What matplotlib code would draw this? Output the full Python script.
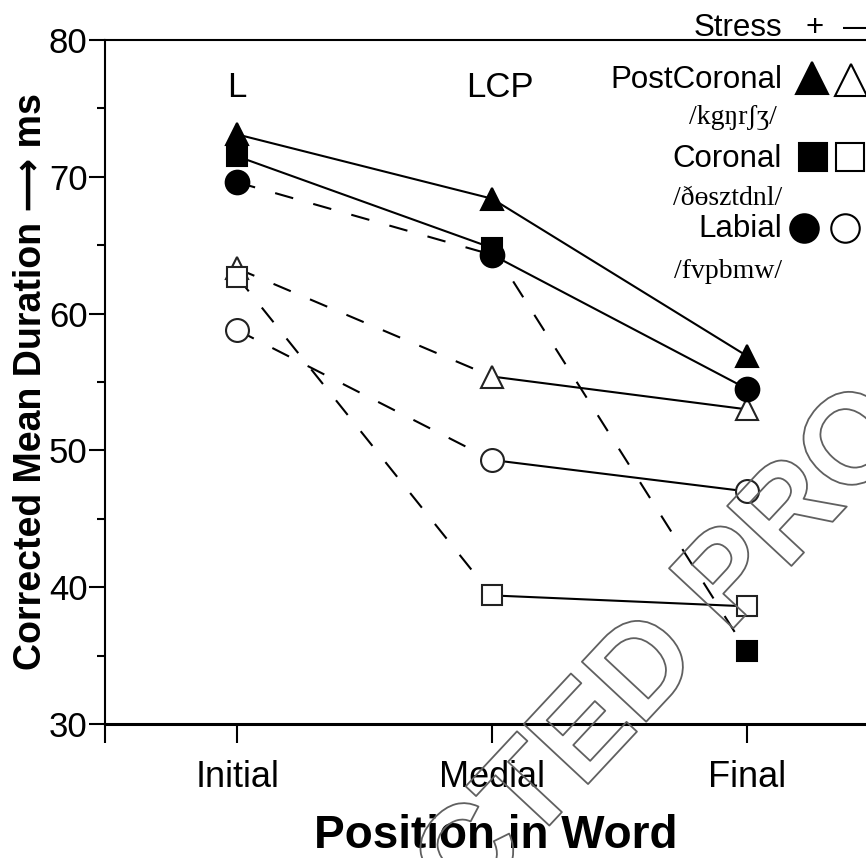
import numpy as np
import matplotlib.pyplot as plt
import matplotlib.patheffects as pe

plt.rcParams['font.family'] = ['Liberation Sans', 'DejaVu Sans']

# data (ms)
positions = ['Initial', 'Medial', 'Final']
xpos = [1, 2, 3]

postcor_stress = [73.1, 68.4, 56.9]
postcor_unstress = [63.3, 55.4, 53.0]
coronal_stress = [71.5, 64.8, 35.3]
coronal_unstress = [62.7, 39.4, 38.6]
labial_stress = [69.6, 64.3, 54.5]
labial_unstress = [58.8, 49.3, 47.0]

SOLID = '-'
DASH = (0, (9, 10))

# (values, marker, filled, size, style Initial->Medial, style Medial->Final)
series = [
    (postcor_stress, '^', True, 16.5, SOLID, SOLID),
    (postcor_unstress, '^', False, 16.5, DASH, SOLID),
    (coronal_stress, 's', True, 14.5, SOLID, DASH),
    (coronal_unstress, 's', False, 14.5, DASH, SOLID),
    (labial_stress, 'o', True, 17, DASH, SOLID),
    (labial_unstress, 'o', False, 16.5, DASH, SOLID),
]

W, H = 866, 858
fig = plt.figure(figsize=(W / 100, H / 100), dpi=100)
ax = fig.add_axes([105 / W, 134 / H, 1 - 105 / W, 684 / H])

for vals, mk, filled, ms, st1, st2 in series:
    ax.plot(xpos[:2], vals[:2], color='black', lw=1.5, linestyle=st1, zorder=2)
    ax.plot(xpos[1:], vals[1:], color='black', lw=1.5, linestyle=st2, zorder=2)
    ax.plot(xpos, vals, linestyle='none', marker=mk, markersize=ms,
            markerfacecolor='black' if filled else 'white',
            markeredgecolor='black' if filled else '#222222',
            markeredgewidth=1.5, zorder=3)

ax.set_xlim(0.482, 1 + (W - 237) / 255)
ax.set_ylim(30, 80)

ax.set_xticks([0.482] + xpos)
ax.set_xticklabels([''] + positions, fontsize=26)
ax.set_yticks(np.arange(30, 81, 10))
ax.set_yticks(np.arange(35, 80, 10), minor=True)
ax.tick_params(axis='y', labelsize=25, length=11.5, width=1.5, pad=1)
ax.tick_params(axis='y', which='minor', length=5.5, width=1.5)
ax.tick_params(axis='x', length=14, width=1.5, pad=12)

ax.spines['right'].set_visible(False)
for s in ['left', 'top']:
    ax.spines[s].set_linewidth(1.5)
ax.spines['bottom'].set_linewidth(2.2)

ax.set_xlabel('Position in Word', fontsize=33, fontweight='bold')
ax.xaxis.set_label_coords(0.514, -0.1316)
ax.set_ylabel('Corrected Mean Duration \u27f6 ms', fontsize=27, fontweight='bold',
              labelpad=0)

# structure labels over the columns
ax.text(1, 76.5, 'L', fontsize=25, ha='center', va='center')
ax.text(2.03, 76.5, 'LCP', fontsize=25, ha='center', va='center')

# hand-made key in the upper right corner (pixel positions)
def fx(px):
    return px / W

def fy(py):
    return 1 - py / H

ipa = dict(family=['Liberation Serif', 'DejaVu Serif'], fontsize=20)
fig.text(fx(782), fy(36), 'Stress', fontsize=22.5, ha='right', va='baseline')
fig.text(fx(815), fy(36), '+', fontsize=22.5, ha='center', va='baseline')
fig.text(fx(843), fy(36), '\u2014', fontsize=22.5, ha='left', va='baseline')

fig.text(fx(782), fy(88), 'PostCoronal', fontsize=22.5, ha='right', va='baseline')
fig.text(fx(777), fy(124), '/kg\u014br\u0283\u0292/', ha='right', va='baseline', **ipa)
fig.text(fx(782), fy(167), 'Coronal', fontsize=22.5, ha='right', va='baseline')
fig.text(fx(782), fy(205), '/\u00f0\u0275sztdnl/', ha='right', va='baseline', **ipa)
fig.text(fx(782), fy(237), 'Labial', fontsize=22.5, ha='right', va='baseline')
fig.text(fx(782), fy(278), '/fvpbmw/', ha='right', va='baseline', **ipa)

key = [
    (812, 78, '^', 'black', 22.5), (851, 80, '^', 'white', 22.5),
    (813, 157, 's', 'black', 20), (850, 157, 's', 'white', 20),
    (804, 228, 'o', 'black', 20.5), (845, 228, 'o', 'white', 20.5),
]
for px, py, mk, fc, ms in key:
    ax.plot([fx(px)], [fy(py)], transform=fig.transFigure, marker=mk,
            markersize=ms, markerfacecolor=fc, markeredgecolor='black',
            markeredgewidth=1.5, linestyle='none', clip_on=False, zorder=5)

# watermark
wm = fig.text(fx(570), fy(755), 'CORRECTED PROOF', fontsize=92, fontweight='bold',
              rotation=47, ha='center', va='center', color='none',
              rotation_mode='anchor', zorder=0)
wm.set_path_effects([pe.withStroke(linewidth=1.3, foreground='#606060')])

fig.savefig('out.png', dpi=100)
